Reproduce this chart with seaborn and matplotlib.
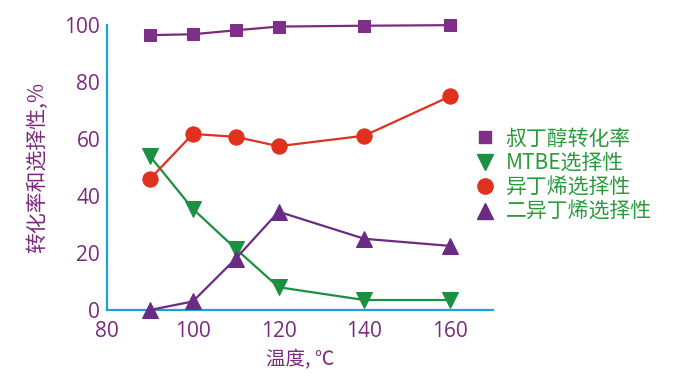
import matplotlib
matplotlib.use("Agg")
import matplotlib.pyplot as plt
import seaborn as sns
import pandas as pd
from matplotlib.lines import Line2D

temps = [90, 100, 110, 120, 140, 160]
conversion = [96.5, 96.8, 98.2, 99.5, 99.8, 100.0]
mtbe = [54.0, 35.5, 21.5, 8.0, 3.5, 3.5]
isobutene = [46.0, 61.8, 60.8, 57.5, 61.2, 75.0]
diisobutene = [0.0, 3.0, 18.0, 34.5, 25.0, 22.5]
labels = ["叔丁醇转化率", "MTBE选择性", "异丁烯选择性", "二异丁烯选择性"]
xticks = [80, 100, 120, 140, 160]
yticks = [0, 20, 40, 60, 80, 100]

sns.set_style("white")
plt.rcParams['font.family'] = ['Noto Sans CJK SC', 'DejaVu Sans']

fig = plt.figure(figsize=(6.78, 3.87), dpi=100)
ax = fig.add_axes([0.158, 0.199, 0.569, 0.736])

purple = "#7b2a7e"
green = "#1a9040"
red = "#e0301e"
violet = "#6a2b82"
cyan = "#1ba3d8"
lgreen = "#2a9a3a"

series = [
    (conversion, purple, "s", 9, "#7e3089"),
    (mtbe, green, "v", 11, "#1a9040"),
    (isobutene, red, "o", 11, "#e0301e"),
    (diisobutene, violet, "^", 11, "#6a2b82"),
]
for vals, col, mk, ms, mcol in series:
    df = pd.DataFrame({"t": temps, "v": vals})
    sns.lineplot(data=df, x="t", y="v", ax=ax, color=col, linewidth=1.6,
                 marker=mk, markersize=ms, markerfacecolor=mcol,
                 markeredgecolor=mcol, legend=False, clip_on=False, zorder=3)

ax.set_xlim(80, 170)
ax.set_ylim(0, 100)
ax.set_xticks(xticks)
ax.set_yticks(yticks)
ax.set_xticks([170], minor=True)
for s in ["top", "right"]:
    ax.spines[s].set_visible(False)
for s in ["left", "bottom"]:
    ax.spines[s].set_color(cyan)
    ax.spines[s].set_linewidth(1.6)
ax.tick_params(axis="both", which="both", direction="in", color=cyan, width=1.6,
               length=5, labelcolor=purple, labelsize=15)
ax.tick_params(axis="x", pad=8)
ax.tick_params(axis="y", pad=5)
for t in ax.get_xticklabels() + ax.get_yticklabels():
    t.set_family(['Open Sans', 'DejaVu Sans'])
ax.set_xlabel("温度, ℃", color=purple, fontsize=14, labelpad=5)
ax.set_ylabel("转化率和选择性,%", color=purple, fontsize=15, labelpad=12)

handles = [Line2D([], [], linestyle="none", marker=mk, markersize=ms,
                  markerfacecolor=mcol, markeredgecolor=mcol)
           for _, _, mk, ms, mcol in series]
leg = ax.legend(handles, labels, loc="upper left", bbox_to_anchor=(0.93, 0.67),
                frameon=False, fontsize=15, handletextpad=0.5, labelspacing=0.12,
                handlelength=1.0, borderaxespad=0)
for t in leg.get_texts():
    t.set_color(lgreen)

fig.savefig("out.png", dpi=100)
